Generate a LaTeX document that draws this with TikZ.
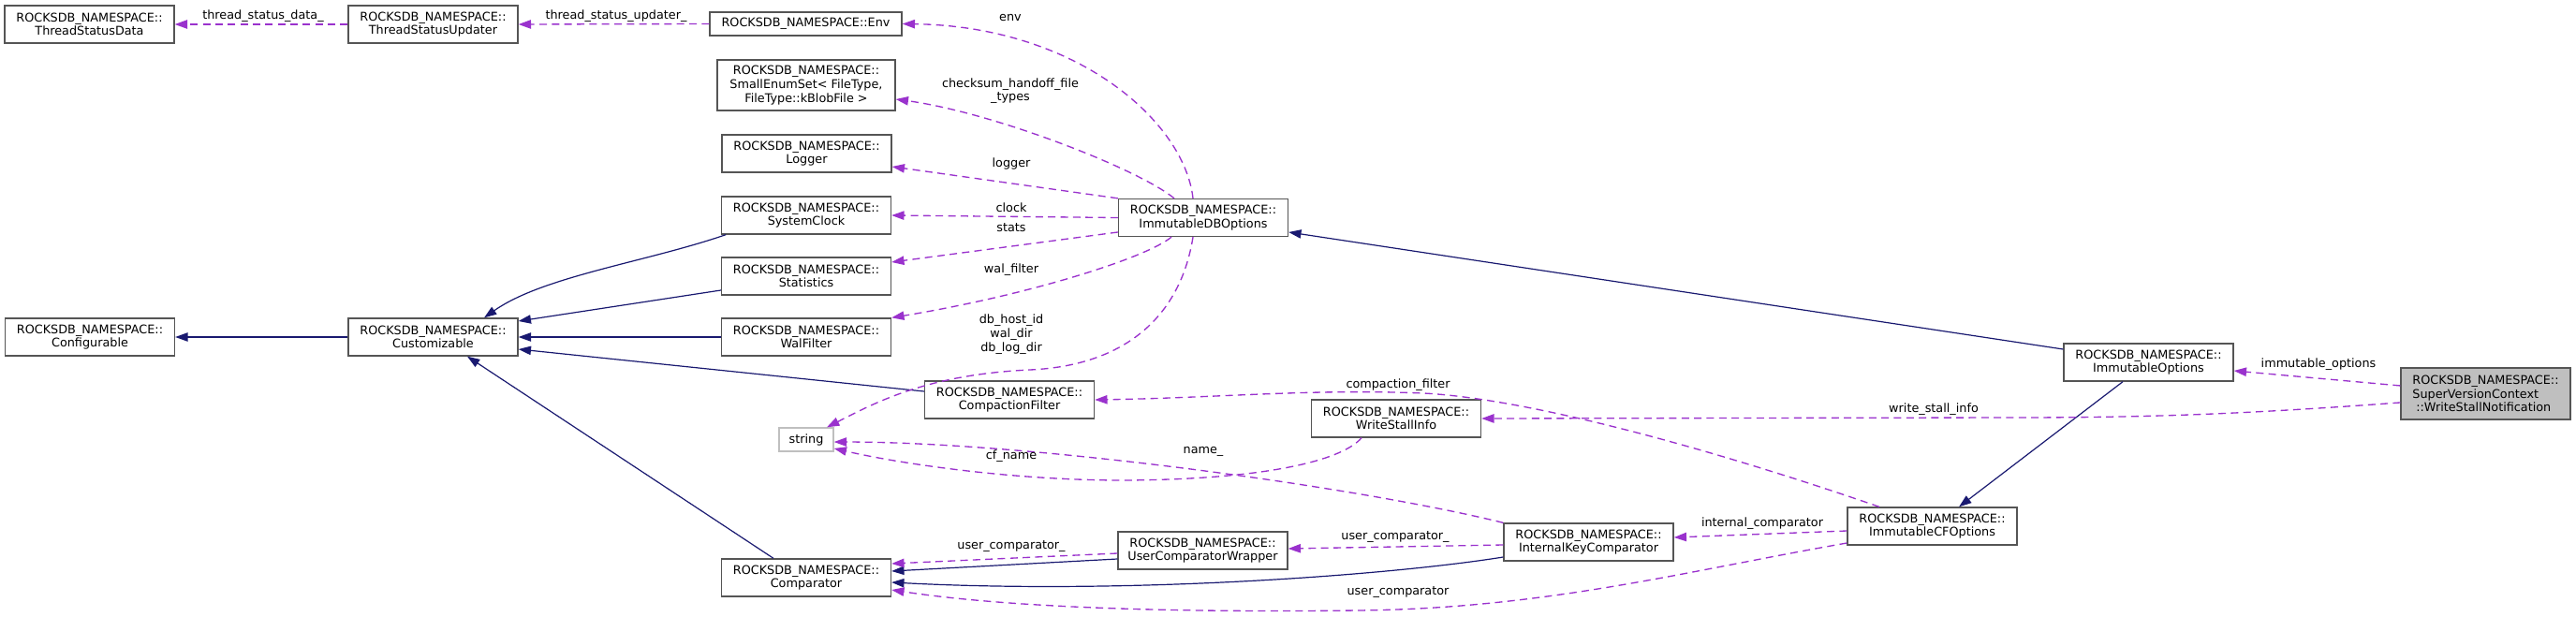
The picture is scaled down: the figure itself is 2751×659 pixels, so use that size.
\documentclass[tikz,border=0pt]{standalone}
\usepackage{fontspec}
\setmainfont{DejaVu Sans}
\usetikzlibrary{arrows.meta}
\definecolor{edgenavy}{HTML}{191970}
\definecolor{edgeorchid}{HTML}{9A32CD}
\definecolor{boxline}{HTML}{555555}
\definecolor{undocline}{HTML}{BFBFBF}
\definecolor{focusfill}{HTML}{BFBFBF}

\begin{document}
\begin{tikzpicture}[
  x=0.75pt, y=-0.75pt,
  font=\fontsize{9.6}{11}\selectfont,
  cls/.style={draw=boxline, fill=white, line width=1pt, minimum width=135.75pt,
              minimum height=30pt, align=center, inner sep=1pt},
  undoc/.style={cls, draw=undocline},
  focus/.style={cls, fill=focusfill, align=left},
  lbl/.style={inner sep=0pt, align=center},
  mem/.style={->, draw=edgeorchid, line width=1pt, dash pattern=on 6pt off 4pt},
  inh/.style={->, draw=edgenavy, line width=0.9pt},
  >={Triangle[length=10pt, width=7pt]}]
  \useasboundingbox (0,0) rectangle (2751,659);
  % classes
  \node[cls] (tsd) at (95.5,26) {ROCKSDB\_NAMESPACE::\\ThreadStatusData};
  \node[cls] (tsu) at (462.5,26) {ROCKSDB\_NAMESPACE::\\ThreadStatusUpdater};
  \node[cls, minimum width=153.75pt, minimum height=18.75pt] (env) at (860.5,25.5) {ROCKSDB\_NAMESPACE::Env};
  \node[cls, minimum width=142.5pt, minimum height=40.5pt] (enumset) at (861,91)
      {ROCKSDB\_NAMESPACE::\\SmallEnumSet< FileType,\\ FileType::kBlobFile >};
  \node[cls] (logger) at (861.5,164) {ROCKSDB\_NAMESPACE::\\Logger};
  \node[cls] (sysclock) at (861,230) {ROCKSDB\_NAMESPACE::\\SystemClock};
  \node[cls] (stats) at (861,295) {ROCKSDB\_NAMESPACE::\\Statistics};
  \node[cls] (walfilter) at (861,360) {ROCKSDB\_NAMESPACE::\\WalFilter};
  \node[cls] (config) at (96,360) {ROCKSDB\_NAMESPACE::\\Configurable};
  \node[cls] (custom) at (462.5,360) {ROCKSDB\_NAMESPACE::\\Customizable};
  \node[cls] (dbopts) at (1285,232.5) {ROCKSDB\_NAMESPACE::\\ImmutableDBOptions};
  \node[cls] (cfilter) at (1078,427) {ROCKSDB\_NAMESPACE::\\CompactionFilter};
  \node[undoc, minimum width=43.5pt, minimum height=18.75pt] (str) at (861,469.5) {string};
  \node[cls] (wsinfo) at (1491,447) {ROCKSDB\_NAMESPACE::\\WriteStallInfo};
  \node[cls] (ucw) at (1284.5,588) {ROCKSDB\_NAMESPACE::\\UserComparatorWrapper};
  \node[cls] (ikc) at (1696.5,579) {ROCKSDB\_NAMESPACE::\\InternalKeyComparator};
  \node[cls] (comp) at (861,617) {ROCKSDB\_NAMESPACE::\\Comparator};
  \node[cls] (iopts) at (2294.5,387) {ROCKSDB\_NAMESPACE::\\ImmutableOptions};
  \node[cls] (cfopts) at (2063.5,562) {ROCKSDB\_NAMESPACE::\\ImmutableCFOptions};
  \node[focus, minimum height=41.25pt] (wsnotif) at (2654.5,420.5)
      {ROCKSDB\_NAMESPACE::\\SuperVersionContext\\\hspace*{0.3em}::WriteStallNotification};

  % inheritance
  \draw[inh] (custom.west) -- (config.east);
  \draw[inh] ([xshift=4pt]sysclock.south west) .. controls (690,280) and (580,295) .. ([xshift=40.9pt]custom.north);
  \draw[inh] ([yshift=-11.25pt]stats.west) -- ([yshift=12.75pt]custom.east);
  \draw[inh] (walfilter.west) -- (custom.east);
  \draw[inh] ([yshift=6.75pt]cfilter.west) -- ([yshift=-9.75pt]custom.east);
  \draw[inh] ([xshift=-26.25pt]comp.north) -- ([xshift=27.4pt]custom.south);
  \draw[inh] ([yshift=-6.75pt]ucw.west) -- ([yshift=5.25pt]comp.east);
  \draw[inh] ([yshift=-12pt]ikc.west) .. controls (1480,615) and (1200,635) .. ([yshift=-3.75pt]comp.east);
  \draw[inh] ([yshift=10.5pt]iopts.west) -- ([yshift=-11.6pt]dbopts.east);
  \draw[inh] ([xshift=-20.6pt]iopts.south) -- ([xshift=21.4pt]cfopts.north);

  % members
  \draw[mem] (tsu.west) -- (tsd.east);
  \draw[mem] (env.west) -- (tsu.east);
  \draw[mem] ([xshift=-8.25pt]dbopts.north) .. controls (1265,130) and (1150,28) .. (env.east);
  \draw[mem] ([xshift=-23.25pt]dbopts.north) .. controls (1215,180) and (1060,120) .. ([yshift=-11.25pt]enumset.east);
  \draw[mem] (dbopts.north west) -- ([yshift=-10.5pt]logger.east);
  \draw[mem] (dbopts.west) -- (sysclock.east);
  \draw[mem] ([yshift=-11.6pt]dbopts.west) -- ([yshift=11.25pt]stats.east);
  \draw[mem] ([xshift=-25.5pt]dbopts.south) .. controls (1225,275) and (1100,315) .. (walfilter.north east);
  \draw[mem] ([xshift=-8.25pt]dbopts.south) .. controls (1262,330) and (1210,390) .. (1100,395)
      .. controls (990,400) and (935,430) .. ([xshift=16.5pt]str.north);
  \draw[mem] ([xshift=-42.4pt]cfopts.north) .. controls (1800,470) and (1620,425) .. (1520,420)
      .. controls (1400,415) and (1300,425) .. (cfilter.east);
  \draw[mem] ([yshift=-7.1pt]wsnotif.west) .. controls (2400,442) and (2300,446) .. (2150,446) -- (wsinfo.east);
  \draw[mem] ([yshift=6.4pt]wsnotif.west) -- ([yshift=-6.75pt]iopts.east);
  \draw[mem] ([xshift=-27.75pt]wsinfo.south) .. controls (1435,490) and (1360,512) .. (1200,513)
      .. controls (1080,513) and (960,495) .. ([yshift=-7.1pt]str.east);
  \draw[mem] (ikc.north west) .. controls (1450,520) and (1100,472) .. ([yshift=-1.9pt]str.east);
  \draw[mem] ([yshift=-2.25pt]ucw.west) -- ([yshift=11.25pt]comp.east);
  \draw[mem] ([yshift=-2.25pt]ikc.west) -- ([yshift=1.5pt]ucw.east);
  \draw[mem] ([yshift=-3.75pt]cfopts.west) -- ([yshift=3.75pt]ikc.east);
  \draw[mem] ([yshift=-13.5pt]cfopts.west) .. controls (1800,610) and (1650,650) .. (1450,652)
      .. controls (1200,655) and (1050,645) .. ([yshift=-9.75pt]comp.east);

  % member labels
  \node[lbl] (ltsd) at (281,17) {thread\_status\_data\_};
  \node[lbl] (ltsu) at (658,17) {thread\_status\_updater\_};
  \node[lbl] (lenv) at (1079,19) {env};
  \node[lbl] (lenum) at (1079,97) {checksum\_handoff\_file\\\_types};
  \node[lbl] (llog) at (1080,175) {logger};
  \node[lbl] (lclk) at (1080,222) {clock};
  \node[lbl] (lsta) at (1080,243) {stats};
  \node[lbl] (lwal) at (1080,288) {wal\_filter};
  \node[lbl] (lstr) at (1080,357) {db\_host\_id\\wal\_dir\\db\_log\_dir};
  \node[lbl] (lcf) at (1493,411) {compaction\_filter};
  \node[lbl] (lwsi) at (2065,437) {write\_stall\_info};
  \node[lbl] (liop) at (2476,389) {immutable\_options};
  \node[lbl] (lcfn) at (1080,487) {cf\_name};
  \node[lbl] (lname) at (1285,482) {name\_};
  \node[lbl] (lucw) at (1080,584) {user\_comparator\_};
  \node[lbl] (likc) at (1490,574) {user\_comparator\_};
  \node[lbl] (lint) at (1882,559) {internal\_comparator};
  \node[lbl] (lcmp) at (1493,633) {user\_comparator};
\end{tikzpicture}
\end{document}
